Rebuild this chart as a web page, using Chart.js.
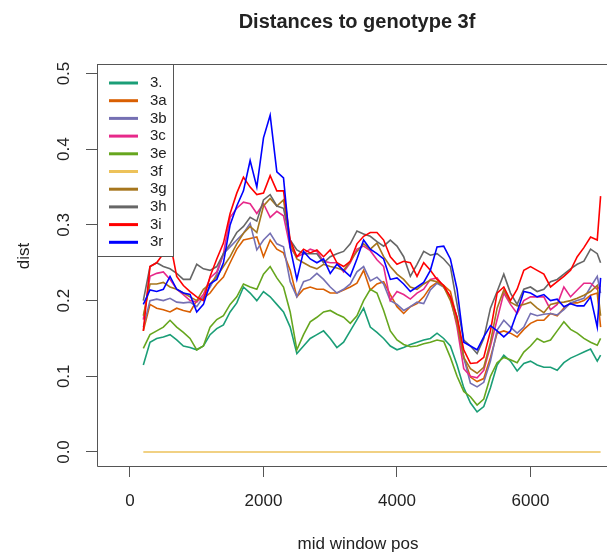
<!DOCTYPE html>
<html lang="en">
<head>
  <meta charset="UTF-8" />
  <title>Distances to genotype 3f</title>
  <style>
    body { margin: 0; background: #ffffff; }
    #chart { display: block; }
  </style>
</head>
<body>
  <canvas id="chart" width="607" height="554"></canvas>

  <script src="https://cdn.jsdelivr.net/npm/chart.js@4"></script>
  <script>
    // mid window positions
    const pos = [200, 300, 400, 500, 600, 700, 800, 900, 1000, 1100,
      1200, 1300, 1400, 1500, 1600, 1700, 1800, 1900, 2000, 2100,
      2200, 2300, 2400, 2500, 2600, 2700, 2800, 2900, 3000, 3100,
      3200, 3300, 3400, 3500, 3600, 3700, 3800, 3900, 4000, 4100,
      4200, 4300, 4400, 4500, 4600, 4700, 4800, 4900, 5000, 5100,
      5200, 5300, 5400, 5500, 5600, 5700, 5800, 5900, 6000, 6100,
      6200, 6300, 6400, 6500, 6600, 6700, 6800, 6900, 7000, 7050];

    const d3dot = [0.115, 0.145, 0.150, 0.152, 0.155, 0.148, 0.140, 0.138, 0.135, 0.140,
      0.155, 0.163, 0.168, 0.185, 0.197, 0.218, 0.210, 0.200, 0.212, 0.205,
      0.195, 0.185, 0.165, 0.130, 0.140, 0.150, 0.155, 0.160, 0.150, 0.138,
      0.145, 0.160, 0.175, 0.190, 0.165, 0.158, 0.150, 0.140, 0.135, 0.138,
      0.142, 0.145, 0.148, 0.150, 0.157, 0.150, 0.140, 0.115, 0.085, 0.065,
      0.053, 0.060, 0.085, 0.115, 0.128, 0.120, 0.107, 0.117, 0.120, 0.115,
      0.112, 0.112, 0.108, 0.118, 0.124, 0.128, 0.132, 0.136, 0.120, 0.128];

    const d3a = [0.160, 0.195, 0.190, 0.188, 0.185, 0.190, 0.187, 0.185, 0.200, 0.203,
      0.210, 0.222, 0.231, 0.250, 0.268, 0.280, 0.282, 0.284, 0.258, 0.280,
      0.268, 0.263, 0.240, 0.205, 0.215, 0.218, 0.215, 0.215, 0.210, 0.210,
      0.214, 0.218, 0.223, 0.240, 0.214, 0.222, 0.225, 0.208, 0.192, 0.183,
      0.192, 0.196, 0.205, 0.218, 0.224, 0.220, 0.212, 0.175, 0.125, 0.099,
      0.093, 0.097, 0.125, 0.157, 0.160, 0.157, 0.152, 0.162, 0.170, 0.174,
      0.174, 0.183, 0.180, 0.190, 0.197, 0.197, 0.200, 0.207, 0.210, 0.165];

    const d3b = [0.165, 0.200, 0.202, 0.200, 0.203, 0.198, 0.197, 0.198, 0.192, 0.205,
      0.218, 0.235, 0.262, 0.271, 0.280, 0.289, 0.302, 0.267, 0.280, 0.289,
      0.275, 0.271, 0.225, 0.205, 0.225, 0.228, 0.236, 0.228, 0.218, 0.210,
      0.215, 0.222, 0.238, 0.245, 0.226, 0.231, 0.222, 0.200, 0.195, 0.187,
      0.192, 0.198, 0.196, 0.214, 0.223, 0.218, 0.205, 0.178, 0.125, 0.091,
      0.086, 0.092, 0.120, 0.161, 0.174, 0.165, 0.157, 0.165, 0.183, 0.180,
      0.182, 0.183, 0.181, 0.188, 0.197, 0.200, 0.203, 0.218, 0.232, 0.210];

    const d3c = [0.175, 0.232, 0.236, 0.238, 0.228, 0.215, 0.208, 0.200, 0.198, 0.208,
      0.230, 0.238, 0.262, 0.310, 0.322, 0.330, 0.328, 0.315, 0.328, 0.310,
      0.318, 0.312, 0.270, 0.258, 0.262, 0.268, 0.265, 0.252, 0.250, 0.250,
      0.238, 0.250, 0.268, 0.272, 0.266, 0.254, 0.245, 0.200, 0.212, 0.208,
      0.202, 0.210, 0.215, 0.228, 0.230, 0.218, 0.205, 0.165, 0.110, 0.100,
      0.098, 0.108, 0.140, 0.175, 0.210, 0.195, 0.183, 0.200, 0.205, 0.205,
      0.205, 0.188, 0.195, 0.218, 0.205, 0.214, 0.223, 0.223, 0.215, 0.220];

    const d3e = [0.137, 0.155, 0.160, 0.165, 0.174, 0.165, 0.158, 0.150, 0.135, 0.140,
      0.165, 0.175, 0.180, 0.195, 0.205, 0.222, 0.218, 0.215, 0.235, 0.245,
      0.230, 0.218, 0.185, 0.135, 0.155, 0.172, 0.178, 0.185, 0.187, 0.182,
      0.178, 0.170, 0.180, 0.200, 0.215, 0.210, 0.187, 0.160, 0.148, 0.142,
      0.139, 0.140, 0.143, 0.145, 0.148, 0.146, 0.125, 0.100, 0.080, 0.073,
      0.062, 0.070, 0.100, 0.118, 0.125, 0.122, 0.118, 0.132, 0.140, 0.150,
      0.145, 0.148, 0.160, 0.172, 0.162, 0.157, 0.150, 0.145, 0.141, 0.150];

    const d3f = [0, 0, 0, 0, 0, 0, 0, 0, 0, 0,
      0, 0, 0, 0, 0, 0, 0, 0, 0, 0,
      0, 0, 0, 0, 0, 0, 0, 0, 0, 0,
      0, 0, 0, 0, 0, 0, 0, 0, 0, 0,
      0, 0, 0, 0, 0, 0, 0, 0, 0, 0,
      0, 0, 0, 0, 0, 0, 0, 0, 0, 0,
      0, 0, 0, 0, 0, 0, 0, 0, 0, 0];

    const d3g = [0.180, 0.222, 0.222, 0.224, 0.218, 0.215, 0.210, 0.205, 0.200, 0.215,
      0.222, 0.232, 0.245, 0.258, 0.275, 0.289, 0.298, 0.290, 0.325, 0.335,
      0.325, 0.333, 0.275, 0.255, 0.250, 0.245, 0.242, 0.248, 0.245, 0.243,
      0.240, 0.252, 0.265, 0.275, 0.268, 0.276, 0.258, 0.245, 0.235, 0.228,
      0.218, 0.215, 0.222, 0.227, 0.225, 0.218, 0.200, 0.170, 0.125, 0.110,
      0.104, 0.112, 0.145, 0.190, 0.214, 0.198, 0.193, 0.195, 0.198, 0.190,
      0.184, 0.195, 0.197, 0.198, 0.200, 0.203, 0.207, 0.212, 0.220, 0.180];

    const d3h = [0.200, 0.245, 0.250, 0.245, 0.242, 0.236, 0.228, 0.228, 0.248, 0.242,
      0.240, 0.245, 0.262, 0.275, 0.290, 0.298, 0.310, 0.305, 0.333, 0.340,
      0.325, 0.322, 0.280, 0.267, 0.262, 0.262, 0.262, 0.250, 0.258, 0.262,
      0.265, 0.275, 0.292, 0.288, 0.285, 0.278, 0.272, 0.280, 0.272, 0.258,
      0.232, 0.248, 0.265, 0.260, 0.262, 0.255, 0.245, 0.195, 0.148, 0.140,
      0.130, 0.150, 0.190, 0.212, 0.235, 0.210, 0.195, 0.215, 0.218, 0.212,
      0.215, 0.225, 0.228, 0.235, 0.242, 0.248, 0.252, 0.268, 0.262, 0.250];

    const d3i = [0.160, 0.245, 0.250, 0.262, 0.278, 0.232, 0.220, 0.212, 0.205, 0.200,
      0.232, 0.255, 0.276, 0.315, 0.342, 0.363, 0.350, 0.340, 0.342, 0.365,
      0.345, 0.345, 0.280, 0.258, 0.268, 0.263, 0.267, 0.258, 0.267, 0.250,
      0.245, 0.252, 0.275, 0.285, 0.290, 0.290, 0.280, 0.258, 0.248, 0.252,
      0.250, 0.232, 0.250, 0.240, 0.228, 0.220, 0.205, 0.178, 0.135, 0.117,
      0.118, 0.125, 0.160, 0.210, 0.218, 0.200, 0.215, 0.240, 0.245, 0.240,
      0.235, 0.218, 0.225, 0.232, 0.240, 0.258, 0.270, 0.284, 0.280, 0.338];

    const d3r = [0.195, 0.214, 0.212, 0.215, 0.232, 0.215, 0.210, 0.208, 0.185, 0.195,
      0.222, 0.228, 0.250, 0.300, 0.325, 0.345, 0.385, 0.350, 0.415, 0.445,
      0.370, 0.362, 0.270, 0.228, 0.265, 0.255, 0.250, 0.255, 0.236, 0.248,
      0.240, 0.232, 0.255, 0.280, 0.268, 0.262, 0.255, 0.228, 0.230, 0.222,
      0.212, 0.218, 0.224, 0.240, 0.271, 0.272, 0.255, 0.215, 0.145, 0.140,
      0.135, 0.152, 0.167, 0.160, 0.152, 0.160, 0.185, 0.212, 0.210, 0.205,
      0.208, 0.200, 0.202, 0.192, 0.196, 0.193, 0.193, 0.205, 0.165, 0.230];

    const seriesNames = ['3.', '3a', '3b', '3c', '3e', '3f', '3g', '3h', '3i', '3r'];
    const seriesValues = [d3dot, d3a, d3b, d3c, d3e, d3f, d3g, d3h, d3i, d3r];
    const seriesColors = ['#1B9E77', '#D95F02', '#7570B3', '#E7298A', '#66A61E',
      '#EDC25A', '#A6761D', '#666666', '#FF0000', '#0000FF'];

    const xTicks = [0, 2000, 4000, 6000];
    const yTicks = [0.0, 0.1, 0.2, 0.3, 0.4, 0.5];
    const yTickLabels = ['0.0', '0.1', '0.2', '0.3', '0.4', '0.5'];

    const FONT = "'Liberation Sans', Arial, sans-serif";
    const AXIS = '#555555';

    // R style frame, labels, title and legend
    const rDecor = {
      id: 'rDecor',
      afterDraw(chart) {
        const ctx = chart.ctx;
        const a = chart.chartArea;
        const ys = chart.scales.y;
        const xs = chart.scales.x;
        ctx.save();

        // frame (right side falls outside the picture)
        ctx.strokeStyle = AXIS;
        ctx.lineWidth = 1;
        ctx.beginPath();
        ctx.moveTo(chart.width, a.top + 0.5);
        ctx.lineTo(a.left + 0.5, a.top + 0.5);
        ctx.lineTo(a.left + 0.5, a.bottom + 0.5);
        ctx.lineTo(chart.width, a.bottom + 0.5);
        ctx.stroke();

        ctx.fillStyle = '#222222';
        ctx.font = '17px ' + FONT;
        ctx.textAlign = 'center';
        ctx.textBaseline = 'middle';

        // x tick labels
        xTicks.forEach(v => ctx.fillText(String(v), xs.getPixelForValue(v), 501));

        // y tick labels, rotated
        yTicks.forEach((v, i) => {
          ctx.save();
          ctx.translate(64, ys.getPixelForValue(v));
          ctx.rotate(-Math.PI / 2);
          ctx.fillText(yTickLabels[i], 0, 0);
          ctx.restore();
        });

        // axis titles
        ctx.fillText('mid window pos', 358, 544);
        ctx.save();
        ctx.translate(24, 256);
        ctx.rotate(-Math.PI / 2);
        ctx.fillText('dist', 0, 0);
        ctx.restore();

        // main title
        ctx.font = 'bold 20px ' + FONT;
        ctx.textBaseline = 'alphabetic';
        ctx.fillText('Distances to genotype 3f', 357, 28);

        // legend box
        const lx = a.left, ly = a.top, lw = 76, lh = 192;
        ctx.fillStyle = '#ffffff';
        ctx.fillRect(lx, ly, lw, lh);
        ctx.strokeStyle = AXIS;
        ctx.lineWidth = 1;
        ctx.strokeRect(lx + 0.5, ly + 0.5, lw, lh);
        ctx.font = '15px ' + FONT;
        ctx.textAlign = 'left';
        ctx.textBaseline = 'middle';
        seriesNames.forEach((name, i) => {
          const yy = ly + 19 + i * 17.7;
          ctx.strokeStyle = seriesColors[i];
          ctx.lineWidth = 3;
          ctx.beginPath();
          ctx.moveTo(lx + 12, yy);
          ctx.lineTo(lx + 41, yy);
          ctx.stroke();
          ctx.fillStyle = '#222222';
          ctx.fillText(name, lx + 53, yy);
        });

        ctx.restore();
      }
    };

    const datasets = seriesNames.map((name, i) => ({
      label: name,
      data: pos.map((p, j) => ({ x: p, y: seriesValues[i][j] })),
      borderColor: seriesColors[i],
      borderWidth: 1.6,
      pointRadius: 0,
      fill: false,
      tension: 0,
      order: seriesNames.length - i
    }));

    new Chart(document.getElementById('chart'), {
      type: 'line',
      data: { datasets },
      plugins: [rDecor],
      options: {
        responsive: false,
        animation: false,
        devicePixelRatio: 1,
        layout: { padding: { top: 64, left: 0, right: 0, bottom: 0 } },
        plugins: {
          legend: { display: false },
          title: { display: false },
          tooltip: { enabled: false }
        },
        scales: {
          x: {
            type: 'linear',
            min: -494,
            max: 7146,
            afterBuildTicks: s => { s.ticks = xTicks.map(v => ({ value: v })); },
            afterFit: s => { s.height = 88; },
            ticks: { display: false },
            border: { display: false },
            grid: { drawOnChartArea: false, drawTicks: true, tickLength: 11, color: AXIS }
          },
          y: {
            type: 'linear',
            min: -0.0185,
            max: 0.5126,
            afterBuildTicks: s => { s.ticks = yTicks.map(v => ({ value: v })); },
            afterFit: s => { s.width = 97; },
            ticks: { display: false },
            border: { display: false },
            grid: { drawOnChartArea: false, drawTicks: true, tickLength: 11, color: AXIS }
          }
        }
      }
    });
  </script>
</body>
</html>
